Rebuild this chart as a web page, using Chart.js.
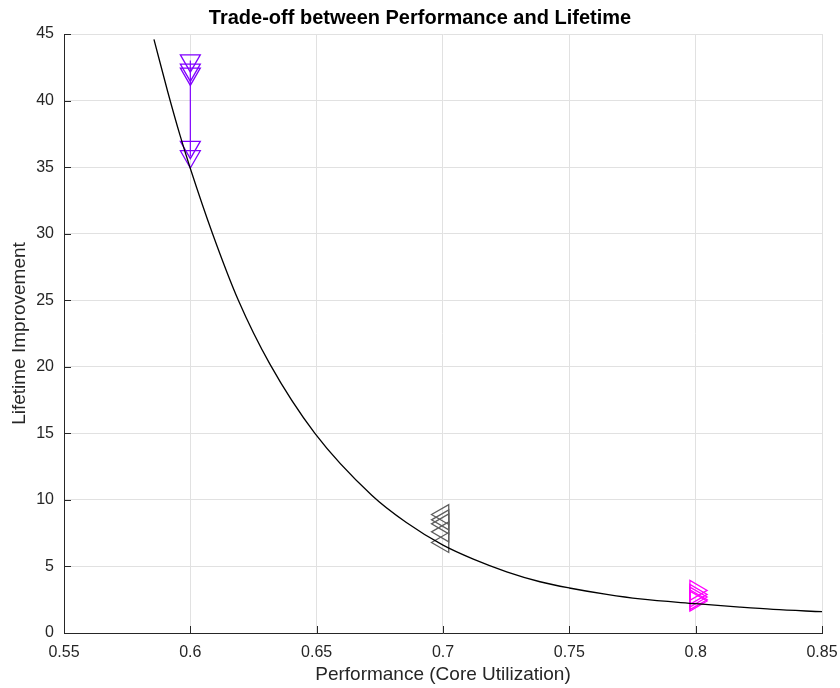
<!DOCTYPE html>
<html>
<head>
<meta charset="utf-8">
<title>Trade-off between Performance and Lifetime</title>
<script src="https://cdn.jsdelivr.net/npm/chart.js@4/dist/chart.umd.min.js"></script>
<style>
  html, body { margin: 0; padding: 0; background: #ffffff; }
  #wrap { width: 840px; height: 688px; }
</style>
</head>
<body>
<div id="wrap"><canvas id="chart" width="840" height="688"></canvas></div>
<script>
// Trade-off curve: core utilization vs. lifetime improvement
const curvePerformance = [0.5856, 0.5910, 0.5959, 0.6000, 0.6088, 0.6190, 0.6315, 0.6493,
                          0.6718, 0.6855, 0.7000, 0.7120, 0.7252, 0.7384, 0.7500, 0.7648,
                          0.7780, 0.8000, 0.8175, 0.8307, 0.8500];
const curveLifetime    = [44.6, 40.7, 37.4, 34.9, 30.0, 25.0, 20.2, 15.0,
                          10.35, 8.3, 6.6, 5.55, 4.6, 3.85, 3.38, 2.9,
                          2.56, 2.2, 1.94, 1.77, 1.60];

// Measured configurations at three utilization levels
const utilizationLevels = [0.6, 0.7, 0.8];
const lifetimeAt06 = [43.0, 42.3, 42.0, 36.5, 35.8];
const lifetimeAt07 = [8.9, 8.5, 8.2, 7.6, 6.8];
const lifetimeAt08 = [3.2, 2.9, 2.7, 2.5, 2.4];

// Axis ticks
const xTicks = [0.55, 0.6, 0.65, 0.7, 0.75, 0.8, 0.85];
const yTicks = [0, 5, 10, 15, 20, 25, 30, 35, 40, 45];

const FONT = '"Liberation Sans", Arial, Helvetica, sans-serif';
const AXIS_COLOR = '#262626';
const GRID_COLOR = '#e1e1e1';

const toPoints = (x, ys) => ys.map(y => ({ x: x, y: y }));

// White page behind the chart
const background = {
  id: 'background',
  beforeDraw(chart) {
    const ctx = chart.ctx;
    ctx.save();
    ctx.fillStyle = '#ffffff';
    ctx.fillRect(0, 0, chart.width, chart.height);
    ctx.restore();
  }
};

// Tick marks pointing into the plot area on the left and bottom axes
const inwardTicks = {
  id: 'inwardTicks',
  afterDraw(chart) {
    const ctx = chart.ctx;
    const area = chart.chartArea;
    const xs = chart.scales.x, ys = chart.scales.y;
    const len = 7;
    ctx.save();
    ctx.strokeStyle = AXIS_COLOR;
    ctx.lineWidth = 1;
    ctx.beginPath();
    xs.ticks.forEach(t => {
      const px = Math.round(xs.getPixelForValue(t.value)) + 0.5;
      ctx.moveTo(px, area.bottom);
      ctx.lineTo(px, area.bottom - len);
    });
    ys.ticks.forEach(t => {
      const py = Math.round(ys.getPixelForValue(t.value)) + 0.5;
      ctx.moveTo(area.left, py);
      ctx.lineTo(area.left + len, py);
    });
    ctx.stroke();
    ctx.restore();
  }
};

const ctx = document.getElementById('chart').getContext('2d');
new Chart(ctx, {
  type: 'scatter',
  data: {
    datasets: [
      {
        label: 'Trade-off curve',
        data: curvePerformance.map((x, i) => ({ x: x, y: curveLifetime[i] })),
        showLine: true,
        borderColor: '#000000',
        borderWidth: 1.3,
        pointRadius: 0,
        pointHoverRadius: 0,
        cubicInterpolationMode: 'monotone',
        fill: false
      },
      {
        label: 'Utilization 0.6',
        data: toPoints(utilizationLevels[0], lifetimeAt06),
        showLine: true,
        borderColor: '#8000ff',
        borderWidth: 1.2,
        pointStyle: 'triangle',
        rotation: 180,
        pointRadius: 11.5,
        pointBorderWidth: 1.3,
        pointBackgroundColor: 'rgba(0,0,0,0)',
        pointBorderColor: '#8000ff'
      },
      {
        label: 'Utilization 0.7',
        data: toPoints(utilizationLevels[1], lifetimeAt07),
        showLine: false,
        pointStyle: 'triangle',
        rotation: 270,
        pointRadius: 11.5,
        pointBorderWidth: 1.3,
        pointBackgroundColor: 'rgba(0,0,0,0)',
        pointBorderColor: '#5e5e5e'
      },
      {
        label: 'Utilization 0.8',
        data: toPoints(utilizationLevels[2], lifetimeAt08),
        showLine: false,
        pointStyle: 'triangle',
        rotation: 90,
        pointRadius: 11.5,
        pointBorderWidth: 1.3,
        pointBackgroundColor: 'rgba(0,0,0,0)',
        pointBorderColor: '#ff00ff'
      }
    ]
  },
  options: {
    responsive: false,
    animation: false,
    events: [],
    layout: { padding: 0 },
    plugins: {
      legend: { display: false },
      tooltip: { enabled: false },
      title: {
        display: true,
        text: 'Trade-off between Performance and Lifetime',
        color: '#000000',
        font: { family: FONT, size: 20, weight: 'bold', lineHeight: 1.2 },
        padding: { top: 6, bottom: 4 }
      }
    },
    scales: {
      x: {
        type: 'linear',
        min: xTicks[0],
        max: xTicks[xTicks.length - 1],
        afterBuildTicks(scale) { scale.ticks = xTicks.map(v => ({ value: v })); },
        afterFit(scale) {
          scale.height = 55;
          scale.paddingLeft = 0;
          scale.paddingRight = 18;
        },
        ticks: {
          color: AXIS_COLOR,
          font: { family: FONT, size: 16 },
          padding: 10,
          maxRotation: 0,
          autoSkip: false,
          callback: v => String(v)
        },
        grid: { color: GRID_COLOR, lineWidth: 1, drawTicks: false },
        border: { display: true, color: AXIS_COLOR, width: 1 },
        title: {
          display: true,
          text: 'Performance (Core Utilization)',
          color: AXIS_COLOR,
          font: { family: FONT, size: 19, lineHeight: 1.2 },
          padding: { top: 0, bottom: 2 }
        }
      },
      y: {
        type: 'linear',
        min: yTicks[0],
        max: yTicks[yTicks.length - 1],
        afterBuildTicks(scale) { scale.ticks = yTicks.map(v => ({ value: v })); },
        afterFit(scale) {
          scale.width = 64;
          scale.paddingTop = 0;
          scale.paddingBottom = 0;
        },
        ticks: {
          color: AXIS_COLOR,
          font: { family: FONT, size: 16 },
          padding: 10,
          autoSkip: false,
          callback: v => String(v)
        },
        grid: { color: GRID_COLOR, lineWidth: 1, drawTicks: false },
        border: { display: true, color: AXIS_COLOR, width: 1 },
        title: {
          display: true,
          text: 'Lifetime Improvement',
          color: AXIS_COLOR,
          font: { family: FONT, size: 19, lineHeight: 1.2 },
          padding: { top: 8, bottom: 0 }
        }
      }
    }
  },
  plugins: [background, inwardTicks]
});
</script>
</body>
</html>
